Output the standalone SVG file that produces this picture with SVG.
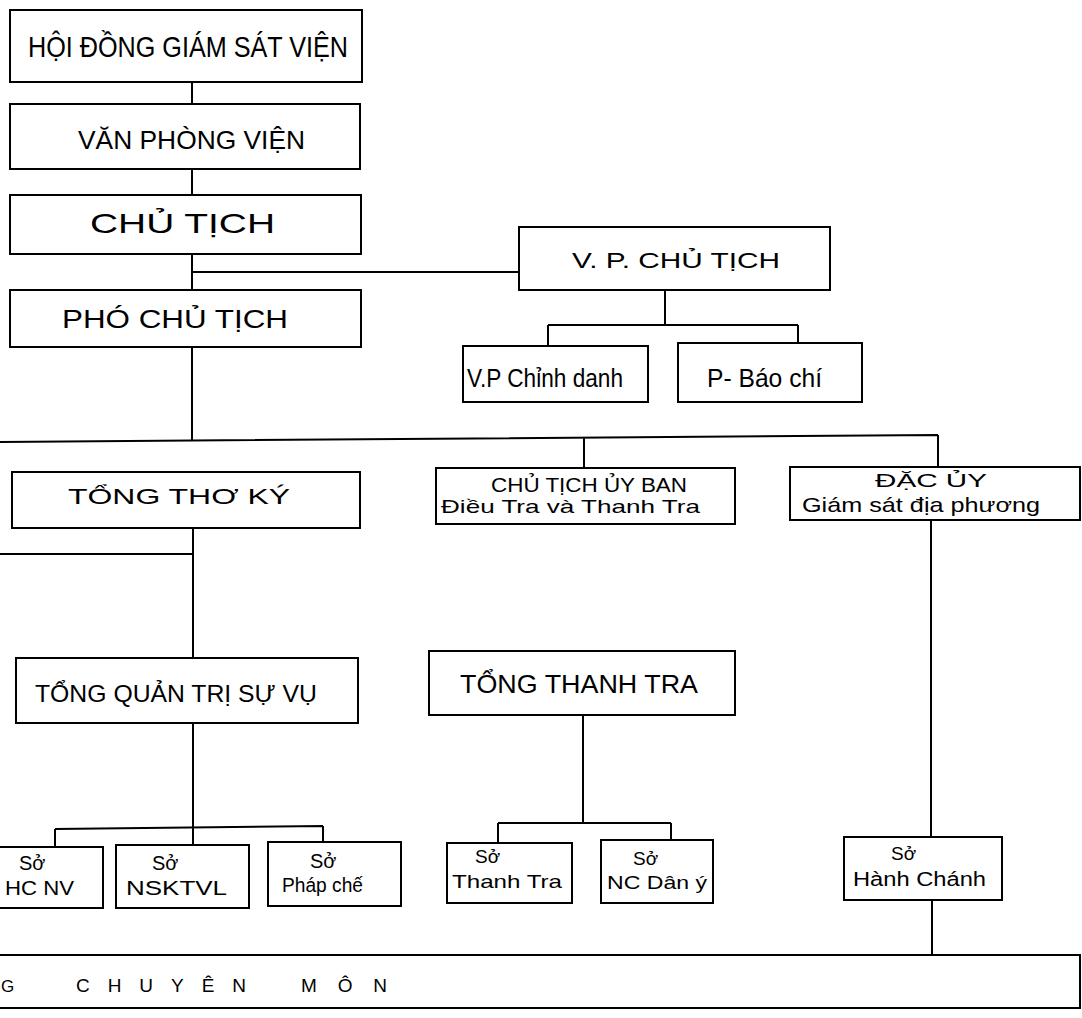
<svg xmlns="http://www.w3.org/2000/svg" width="1082" height="1018" viewBox="0 0 1082 1018">
<style>
.box{fill:#fff;stroke:#000;stroke-width:2}
.conn path{fill:none;stroke:#000;stroke-width:2}
text{font-family:"Liberation Sans","DejaVu Sans",sans-serif;fill:#000}
</style>
<rect x="0" y="0" width="1082" height="1018" fill="#fff"/>
<g id="connectors" class="conn">
<path d="M192 82V104"/>
<path d="M192 169V195"/>
<path d="M192 254V290"/>
<path d="M192 272H519"/>
<path d="M665 290V325M548 325H798M548 325V346M798 325V343"/>
<path d="M192 347V441"/>
<path d="M0 442L938 435M938 435V467M584 437V468"/>
<path d="M193 528V658M0 554H193"/>
<path d="M193 723V845M55 829L323 826M55 829V847M323 826V842"/>
<path d="M583 715V823M498 823H671M498 823V843M671 823V850"/>
<path d="M931 520V837"/>
<path d="M932 900V955"/>
</g>
<g id="n-hoidong"><rect class="box" x="10" y="10" width="352" height="72"/><text x="28" y="57" font-size="30" textLength="320" lengthAdjust="spacingAndGlyphs">HỘI ĐỒNG GIÁM SÁT VIỆN</text></g>
<g id="n-vanphong"><rect class="box" x="10" y="104" width="350" height="65"/><text x="78" y="149" font-size="26" textLength="227" lengthAdjust="spacingAndGlyphs">VĂN PHÒNG VIỆN</text></g>
<g id="n-chutich"><rect class="box" x="10" y="195" width="351" height="59"/><text x="90" y="233" font-size="28" textLength="185" lengthAdjust="spacingAndGlyphs">CHỦ TỊCH</text></g>
<g id="n-vpchutich"><rect class="box" x="519" y="227" width="311" height="63"/><text x="572" y="268" font-size="22" textLength="208" lengthAdjust="spacingAndGlyphs">V. P. CHỦ TỊCH</text></g>
<g id="n-phochutich"><rect class="box" x="10" y="290" width="351" height="57"/><text x="62" y="328" font-size="25" textLength="226" lengthAdjust="spacingAndGlyphs">PHÓ CHỦ TỊCH</text></g>
<g id="n-vpchinhdanh"><rect class="box" x="463" y="346" width="185" height="56"/><text x="467" y="387" font-size="26" textLength="156" lengthAdjust="spacingAndGlyphs">V.P Chỉnh danh</text></g>
<g id="n-baochi"><rect class="box" x="678" y="343" width="184" height="59"/><text x="707" y="387" font-size="26" textLength="115" lengthAdjust="spacingAndGlyphs">P- Báo chí</text></g>
<g id="n-tongthoky"><rect class="box" x="12" y="472" width="348" height="56"/><text x="68" y="504" font-size="22" textLength="222" lengthAdjust="spacingAndGlyphs">TỔNG THƠ KÝ</text></g>
<g id="n-chutichuyban"><rect class="box" x="436" y="468" width="299" height="56"/><text x="491" y="492" font-size="20" textLength="196" lengthAdjust="spacingAndGlyphs">CHỦ TỊCH ỦY BAN</text><text x="441" y="513" font-size="19" textLength="259" lengthAdjust="spacingAndGlyphs">Điều Tra và Thanh Tra</text></g>
<g id="n-dacuy"><rect class="box" x="790" y="467" width="290" height="53"/><text x="875" y="487" font-size="19" textLength="112" lengthAdjust="spacingAndGlyphs">ĐẶC ỦY</text><text x="802" y="512" font-size="21" textLength="238" lengthAdjust="spacingAndGlyphs">Giám sát địa phương</text></g>
<g id="n-tongquantri"><rect class="box" x="16" y="658" width="342" height="65"/><text x="35" y="702" font-size="24" textLength="282" lengthAdjust="spacingAndGlyphs">TỔNG QUẢN TRỊ SỰ VỤ</text></g>
<g id="n-tongthanhtra"><rect class="box" x="429" y="651" width="306" height="64"/><text x="460" y="693" font-size="26" textLength="238" lengthAdjust="spacingAndGlyphs">TỔNG THANH TRA</text></g>
<g id="n-hcnv"><rect class="box" x="-5" y="847" width="108" height="61"/><text x="19" y="870" font-size="20">Sở</text><text x="5" y="895" font-size="20" textLength="69" lengthAdjust="spacingAndGlyphs">HC NV</text></g>
<g id="n-nsktvl"><rect class="box" x="116" y="845" width="133" height="63"/><text x="152" y="870" font-size="20">Sở</text><text x="126" y="895" font-size="20" textLength="101" lengthAdjust="spacingAndGlyphs">NSKTVL</text></g>
<g id="n-phapche"><rect class="box" x="268" y="842" width="133" height="64"/><text x="310" y="868" font-size="20">Sở</text><text x="282" y="892" font-size="20" textLength="81" lengthAdjust="spacingAndGlyphs">Pháp chế</text></g>
<g id="n-sothanhtra"><rect class="box" x="447" y="843" width="125" height="60"/><text x="475" y="863" font-size="19">Sở</text><text x="452" y="888" font-size="19" textLength="110" lengthAdjust="spacingAndGlyphs">Thanh Tra</text></g>
<g id="n-ncdany"><rect class="box" x="601" y="840" width="112" height="63"/><text x="633" y="865" font-size="19">Sở</text><text x="607" y="889" font-size="19" textLength="100" lengthAdjust="spacingAndGlyphs">NC Dân ý</text></g>
<g id="n-hanhchanh"><rect class="box" x="844" y="837" width="158" height="63"/><text x="891" y="860" font-size="19">Sở</text><text x="853" y="886" font-size="20" textLength="133" lengthAdjust="spacingAndGlyphs">Hành Chánh</text></g>
<g id="n-chuyenmon"><rect class="box" x="-5" y="955" width="1085" height="53"/><text x="1" y="992" font-size="17">G</text><text x="76" y="992" font-size="19" textLength="170" lengthAdjust="spacing">CHUYÊN</text><text x="301" y="992" font-size="19" textLength="86" lengthAdjust="spacing">MÔN</text></g>
</svg>
